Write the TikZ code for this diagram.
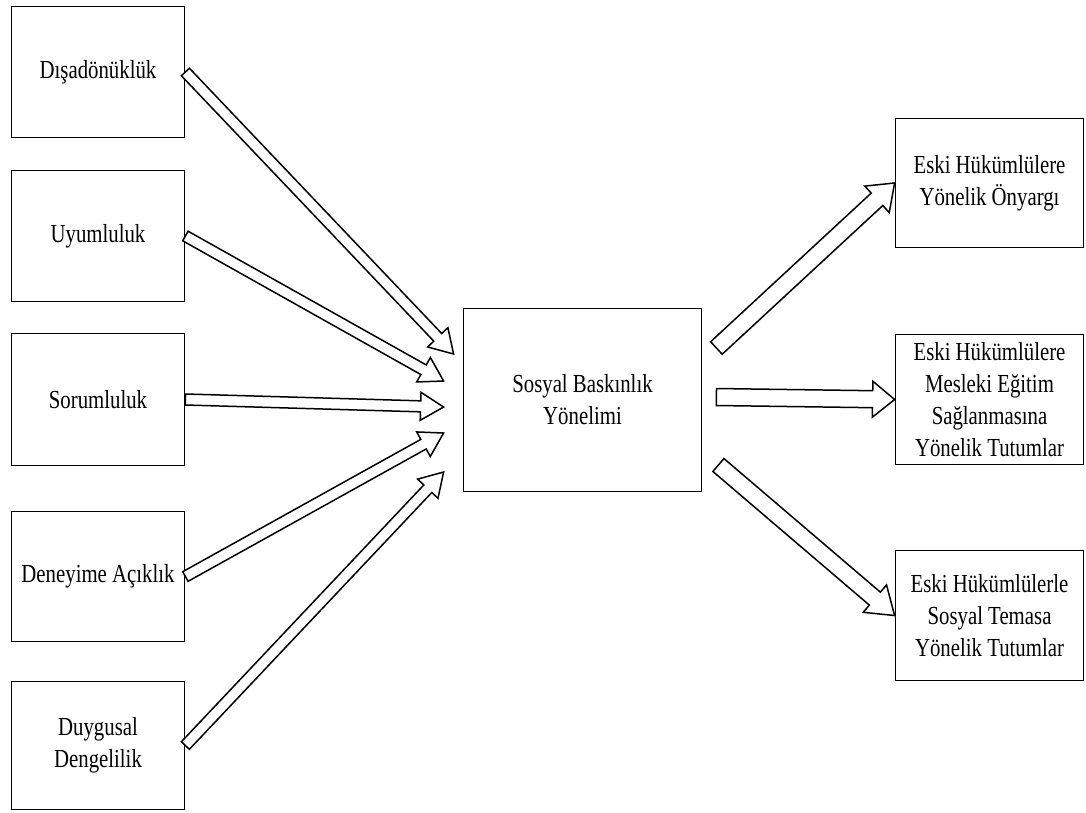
\documentclass[tikz,border=0pt]{standalone}
\usepackage{fontspec}
\setmainfont{Liberation Serif}
\newfontfamily\boxfont{Liberation Serif}[FakeStretch=0.8]
\usetikzlibrary{calc}

\tikzset{
	box/.style={draw, line width=1.8pt, inner sep=2pt, align=center, font=\boxfont\fontsize{26}{32}\selectfont},
	blk/.style={draw, line width=1.5pt, fill=white, line join=miter},
}

% tail, tip, shaft half width, head half width, head length
\newcommand{\blockarrow}[5]{%
	\coordinate (hb) at ($(#2)!#5!(#1)$);
	\draw[blk] ($(#1)!#3!90:(#2)$) -- ($(hb)!#3!90:(#2)$) -- ($(hb)!#4!90:(#2)$) -- (#2)
		-- ($(hb)!#4!-90:(#2)$) -- ($(hb)!#3!-90:(#2)$) -- ($(#1)!#3!-90:(#2)$) -- cycle;}

\begin{document}
\begin{tikzpicture}[x=1pt,y=-1pt]
	\useasboundingbox (0,0) rectangle (1086,812);

	\node[box, minimum width=173pt, minimum height=131pt] (dis) at (98,72) {Dışadönüklük};
	\node[box, minimum width=173pt, minimum height=131pt] (uyum) at (98,236) {Uyumluluk};
	\node[box, minimum width=173pt, minimum height=132pt] (sor) at (98,399.5) {Sorumluluk};
	\node[box, minimum width=173pt, minimum height=130pt] (den) at (98,576.5) {Deneyime Açıklık};
	\node[box, minimum width=173pt, minimum height=128pt] (duy) at (98,745.5) {Duygusal\\Dengelilik};

	\node[box, minimum width=238pt, minimum height=183pt] (sbo) at (582.5,400) {Sosyal Baskınlık\\Yönelimi};

	\node[box, minimum width=188pt, minimum height=129pt] (ony) at (989.5,183) {Eski Hükümlülere\\Yönelik Önyargı};
	\node[box, minimum width=188pt, minimum height=130pt] (mes) at (989.5,399.5) {Eski Hükümlülere\\Mesleki Eğitim\\Sağlanmasına\\Yönelik Tutumlar};
	\node[box, minimum width=188pt, minimum height=130pt] (tem) at (989.5,615.5) {Eski Hükümlülerle\\Sosyal Temasa\\Yönelik Tutumlar};

	\coordinate (in1) at ($(sbo.west)+(-9,-46)$);
	\coordinate (in2) at ($(sbo.west)+(-19,-19)$);
	\coordinate (in3) at ($(sbo.west)+(-19,7)$);
	\coordinate (in4) at ($(sbo.west)+(-19,33)$);
	\coordinate (in5) at ($(sbo.west)+(-19,72)$);
	\coordinate (out1) at ($(sbo.east)+(14,-52)$);
	\coordinate (out2) at ($(sbo.east)+(14,-3)$);
	\coordinate (out3) at ($(sbo.east)+(16,65)$);

	\blockarrow{dis.east}{in1}{5.5pt}{14pt}{23pt}
	\blockarrow{uyum.east}{in2}{5.5pt}{14pt}{23pt}
	\blockarrow{sor.east}{in3}{5.5pt}{14pt}{23pt}
	\blockarrow{den.east}{in4}{5.5pt}{14pt}{23pt}
	\blockarrow{duy.east}{in5}{5.5pt}{14pt}{23pt}

	\blockarrow{out1}{ony.west}{8.5pt}{18pt}{24pt}
	\blockarrow{out2}{mes.west}{8.5pt}{18pt}{22pt}
	\blockarrow{out3}{tem.west}{8.5pt}{18pt}{26pt}
\end{tikzpicture}
\end{document}
